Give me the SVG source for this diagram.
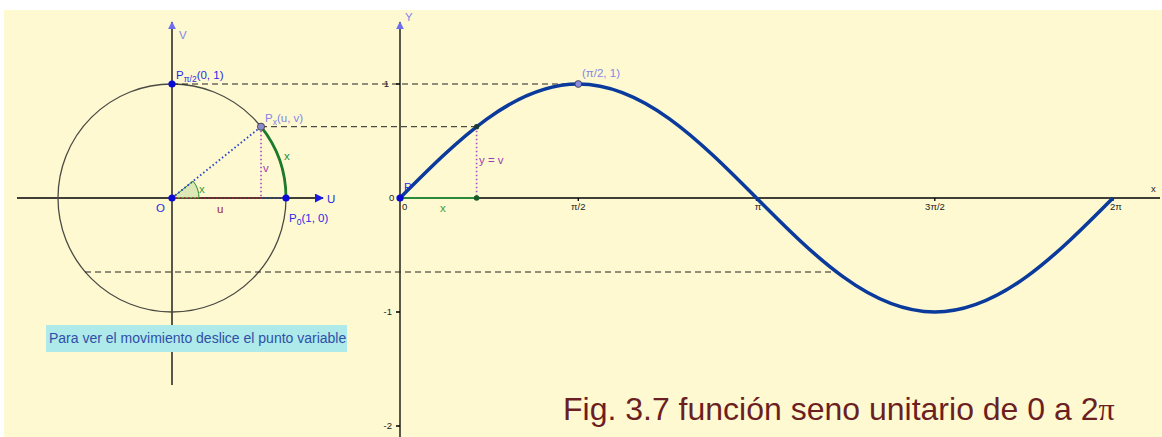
<svg xmlns="http://www.w3.org/2000/svg" width="1162" height="437" viewBox="0 0 1162 437">
<style>
  .ax{stroke:#000;stroke-width:1.3;fill:none}
  .dash{stroke:#222;stroke-width:1;stroke-dasharray:6,4;fill:none}
  .dot{stroke-width:1.7;stroke-dasharray:1.6,2.4;fill:none}
  .lbl{font-family:"Liberation Sans",Arial,sans-serif;font-size:11.5px}
  .tick{font-family:"Liberation Sans",Arial,sans-serif;font-size:9.5px;fill:#222}
  .blue{fill:#2a2ae6}
  .lav{fill:#8585e8}
</style>
<defs>
  <marker id="arr" viewBox="0 0 10 10" refX="9" refY="5" markerWidth="8" markerHeight="8" orient="auto" markerUnits="userSpaceOnUse">
    <path d="M0,0 L10,5 L0,10 Z" fill="#6e6ef0"/>
  </marker>
  <marker id="arrB" viewBox="0 0 10 10" refX="9" refY="5" markerWidth="9" markerHeight="9" orient="auto" markerUnits="userSpaceOnUse">
    <path d="M0,0 L10,5 L0,10 Z" fill="#1a1ae6"/>
  </marker>
</defs>
<rect x="0" y="0" width="1162" height="437" fill="#ffffff"/>
<rect x="4" y="10" width="1158" height="427" fill="#fef9d1"/>

<g id="connectors">
  <line class="ax" x1="172" y1="385" x2="172" y2="22" marker-end="url(#arr)"/>
  <line class="ax" x1="17" y1="198" x2="323" y2="198" marker-end="url(#arrB)"/>
  <circle cx="172" cy="198" r="114" fill="none" stroke="#4a4a44" stroke-width="1.3"/>
  <path d="M172,198 L199,198 A27,27 0 0 0 193.1,181.1 Z" fill="#d5e3b0" fill-opacity="0.8" stroke="#2e8b2e" stroke-width="1"/>
  <path d="M286,198 A114,114 0 0 0 261,126.7" fill="none" stroke="#1d7a2a" stroke-width="2.8"/>
  <line class="dot" x1="172" y1="198" x2="261" y2="126.7" stroke="#2a48c8"/>
  <line class="dot" x1="261" y1="126.7" x2="261" y2="198" stroke="#b050c8"/>
  <line class="dot" x1="172" y1="198" x2="261" y2="198" stroke="#a02030"/>
  <line class="dot" x1="261" y1="198" x2="286" y2="198" stroke="#2a48c8"/>
  <line class="ax" x1="400" y1="437" x2="400" y2="22" marker-end="url(#arr)"/>
  <line class="ax" x1="400" y1="198" x2="1160" y2="198"/>
  <path class="ax" stroke-width="1" d="M578.3,198v3 M756.5,198v3 M934.8,198v3 M1113,198v3 M396,84h4 M396,312h4 M396,426h4"/>
  <line class="dash" x1="172" y1="84" x2="578" y2="84"/>
  <line class="dash" x1="261" y1="126.7" x2="476.6" y2="126.7"/>
  <line class="dash" x1="85" y1="272" x2="837" y2="272"/>
  <line x1="400" y1="198" x2="476.6" y2="198" stroke="#2a8a3a" stroke-width="2.2"/>
  <line class="dot" x1="476.6" y1="126.7" x2="476.6" y2="198" stroke="#b050c8"/>
  <path d="M400,198 C458.1,139.6 513.8,84 578.3,84 C642.8,84 698.4,139.6 756.5,198 C814.6,256.4 870.3,312 934.8,312 C999.3,312 1054.9,256.4 1113,198" fill="none" stroke="#0a3a9c" stroke-width="3.6"/>
</g>

<g id="O"><circle cx="172" cy="198" r="3.6" fill="#0a0ad6"/><text class="lbl blue" x="156" y="212">O</text></g>
<g id="P0"><circle cx="286" cy="198" r="3.6" fill="#0a0ad6"/><text class="lbl blue" x="289" y="222">P<tspan font-size="8.5" dy="3">0</tspan><tspan dy="-3">(1, 0)</tspan></text></g>
<g id="Ppi2"><circle cx="172" cy="84" r="3.6" fill="#0a0ad6"/><text class="lbl blue" x="176" y="79">P<tspan font-size="8.5" dy="3">π/2</tspan><tspan dy="-3">(0, 1)</tspan></text></g>
<g id="Px"><circle cx="261" cy="126.7" r="3.6" fill="#8a8acc" stroke="#333" stroke-width="0.8"/><text class="lbl lav" x="265" y="122">P<tspan font-size="8.5" dy="3">x</tspan><tspan dy="-3">(u, v)</tspan></text></g>
<g id="left-labels">
  <text class="lbl lav" x="179" y="39">V</text>
  <text class="lbl blue" x="327" y="203">U</text>
  <text class="lbl" x="199" y="193" fill="#3a9a3a">x</text>
  <text class="lbl" x="284" y="160" fill="#2a8a3a">x</text>
  <text class="lbl" x="217" y="213" fill="#a02020">u</text>
  <text class="lbl" x="263" y="172" fill="#9a40b0">v</text>
</g>
<g id="note">
  <rect x="46" y="325" width="301" height="27" fill="#aeeaea"/>
  <text x="49" y="343" font-family="'Liberation Sans',Arial,sans-serif" font-size="14" fill="#2f4fa8">Para ver el movimiento deslice el punto variable</text>
</g>

<g id="origin"><circle cx="400" cy="198" r="3.6" fill="#0a0ad6"/><text class="lbl blue" x="404" y="191" font-size="10">P</text></g>
<g id="curvept"><circle cx="476.6" cy="126.7" r="2.6" fill="#1a3a3a"/></g>
<g id="xpt"><circle cx="476.6" cy="198" r="2.8" fill="#1a5a2a"/></g>
<g id="top"><circle cx="578.3" cy="84" r="3.4" fill="#8a8ae0" stroke="#333" stroke-width="0.8"/><text class="lbl lav" x="582" y="77" font-size="10.5">(π/2, 1)</text></g>

<g id="graph-labels">
  <text class="lbl lav" x="405" y="21">Y</text>
  <text class="tick" x="1151" y="192">x</text>
  <text class="tick" x="389" y="201">0</text>
  <text class="tick" x="402" y="210">0</text>
  <text class="tick" x="578.3" y="210" text-anchor="middle">π/2</text>
  <text class="tick" x="758" y="210" text-anchor="middle">π</text>
  <text class="tick" x="935" y="210" text-anchor="middle">3π/2</text>
  <text class="tick" x="1116" y="210" text-anchor="middle">2π</text>
  <text class="tick" x="389" y="87" text-anchor="end">1</text>
  <text class="tick" x="392" y="315" text-anchor="end">-1</text>
  <text class="tick" x="392" y="429" text-anchor="end">-2</text>
  <text class="lbl" x="440" y="212" fill="#3a9a3a" font-size="10.5">x</text>
  <text class="lbl" x="479" y="164" fill="#9a40b0" font-size="10.5">y = v</text>
</g>

<g id="caption">
  <text x="563" y="420" font-family="'Liberation Sans',Arial,sans-serif" font-size="32" fill="#6b1f22">Fig. 3.7 función seno unitario de 0 a 2<tspan font-family="'Liberation Serif','Times New Roman',serif">π</tspan></text>
</g>
</svg>
